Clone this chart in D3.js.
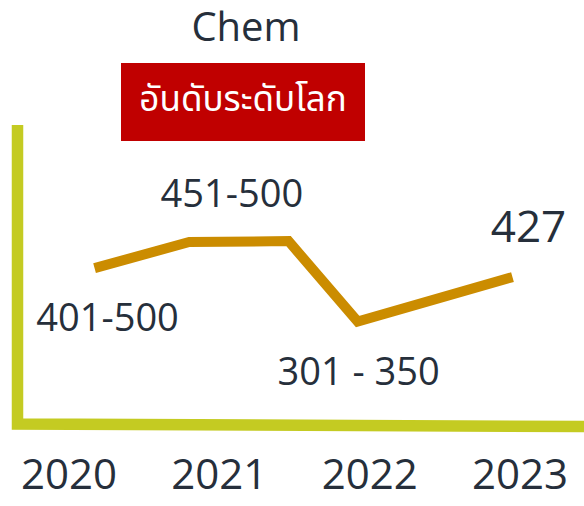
<!DOCTYPE html>
<html>
<head>
<meta charset="utf-8">
<script src="https://cdn.jsdelivr.net/npm/d3@7"></script>
<style>
  html, body { margin: 0; padding: 0; background: #fff; }
  svg { display: block; }
  .lbl { font-family: "Open Sans", sans-serif; fill: #262f3b; }
</style>
</head>
<body>
<div id="chart"></div>
<script>
// data
const years = [2020, 2021, 2022, 2023]
// line points: position in years, height in chart units (0-100)
const pointYear = [2020.17, 2020.8, 2021.46, 2021.92, 2022.95]
const pointVal = [52.3, 61, 61.3, 34.5, 49.3]
// rank labels and which point they belong to
const rankLabels = ["401-500", "451-500", "301 - 350", "427"]
const rankPoint = [0, 1.5, 3, 4]
const title = "Chem"
const badge = "อันดับระดับโลก"

const W = 584, H = 506

const svg = d3.select("#chart").append("svg")
    .attr("width", W)
    .attr("height", H)

var x = d3.scaleLinear()
    .domain([2020, 2023])
    .range([69, 520])

var y = d3.scaleLinear()
    .domain([0, 100])
    .range([425, 125])

// title
svg.append("text")
    .attr("class", "lbl")
    .attr("x", 246)
    .attr("y", 41)
    .attr("text-anchor", "middle")
    .attr("font-size", 40)
    .text(title)

// red badge
svg.append("rect")
    .attr("x", 121)
    .attr("y", 63)
    .attr("width", 244)
    .attr("height", 78)
    .attr("fill", "#c00000")

svg.append("text")
    .attr("x", 243)
    .attr("y", 111)
    .attr("text-anchor", "middle")
    .attr("font-family", "'Noto Sans Thai', 'Noto Sans', sans-serif")
    .attr("font-size", 35)
    .attr("fill", "#fff")
    .text(badge)

// axis frame (left + bottom), bottom edge leans slightly
var frame = d3.line()
svg.append("path")
    .attr("d", frame([[17.5, y(100)], [17.5, y(0) - 1], [W, y(0) + 1.5]]))
    .attr("fill", "none")
    .attr("stroke", "#c4cb22")
    .attr("stroke-width", 11.5)
    .attr("stroke-linejoin", "miter")

// year labels
svg.append("g").selectAll("text").data(years).enter()
    .append("text")
    .attr("class", "lbl")
    .attr("x", d => x(d))
    .attr("y", 489)
    .attr("text-anchor", "middle")
    .attr("font-size", 42)
    .text(d => d)

// the rank line
var pts = pointYear.map((d, i) => [x(d), y(pointVal[i])])
svg.append("path")
    .attr("d", d3.line()(pts))
    .attr("fill", "none")
    .attr("stroke", "#cb8c00")
    .attr("stroke-width", 10)
    .attr("stroke-linejoin", "miter")

// rank labels, above or below their point
var lblBelow = [true, false, true, false]
var lblSize = [38, 38, 38, 44]
svg.append("g").selectAll("text").data(rankLabels).enter()
    .append("text")
    .attr("class", "lbl")
    .attr("x", function(d, i) {
        var p = rankPoint[i]
        var lo = Math.floor(p), hi = Math.ceil(p)
        var px = (x(pointYear[lo]) + x(pointYear[hi])) / 2
        return px + (i == 0 ? 13 : i == 3 ? 16 : i == 1 ? -7 : 1)
    })
    .attr("y", function(d, i) {
        var p = rankPoint[i]
        var lo = Math.floor(p), hi = Math.ceil(p)
        var py = (y(pointVal[lo]) + y(pointVal[hi])) / 2
        return lblBelow[i] ? py + 63 : py - 35
    })
    .attr("text-anchor", "middle")
    .attr("font-size", (d, i) => lblSize[i])
    .text(d => d)
</script>
</body>
</html>
